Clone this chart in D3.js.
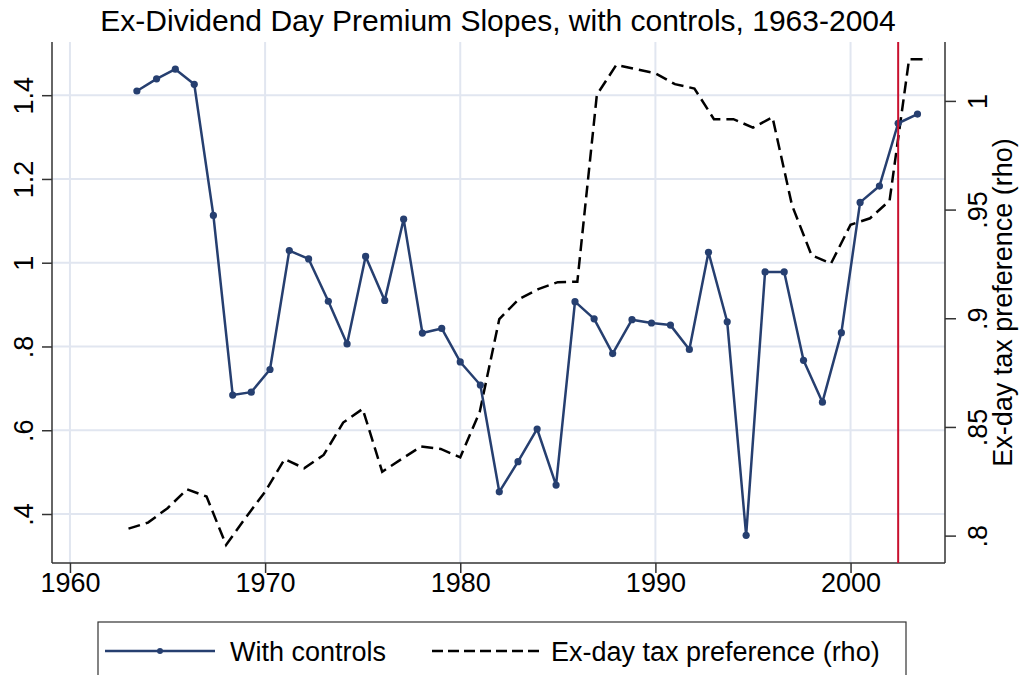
<!DOCTYPE html>
<html>
<head>
<meta charset="utf-8">
<script src="https://cdn.jsdelivr.net/npm/d3@7"></script>
<style>
  body { margin: 0; background: #fff; }
  svg { font-family: "Liberation Sans", Arial, sans-serif; }
</style>
</head>
<body>
<svg id="chart" width="1021" height="675"></svg>
<script>
// premium slope (with controls), left axis; x positions
var slopeX = [1963.43, 1964.44, 1965.40, 1966.37, 1967.35, 1968.34, 1969.29, 1970.25,
    1971.24, 1972.23, 1973.24, 1974.20, 1975.15, 1976.13, 1977.10, 1978.06, 1979.05,
    1980.00, 1981.03, 1982.00, 1982.96, 1983.94, 1984.91, 1985.88, 1986.86, 1987.81,
    1988.80, 1989.80, 1990.77, 1991.74, 1992.72, 1993.68, 1994.65, 1995.62, 1996.60,
    1997.59, 1998.56, 1999.53, 2000.49, 2001.48, 2002.44, 2003.43];
var slopeY = [1.410, 1.439, 1.462, 1.426, 1.113, 0.684, 0.691, 0.745,
    1.029, 1.009, 0.908, 0.806, 1.015, 0.910, 1.104, 0.832, 0.843,
    0.763, 0.708, 0.453, 0.525, 0.603, 0.469, 0.907, 0.866, 0.783,
    0.864, 0.856, 0.851, 0.793, 1.025, 0.859, 0.349, 0.978, 0.978,
    0.767, 0.667, 0.833, 1.144, 1.183, 1.333, 1.355];

// ex-day tax preference (rho), right axis
var rhoYears = d3.range(1963, 2005);
var rhoValues = [0.8032, 0.8060, 0.8126, 0.8213, 0.8180, 0.7957, 0.8082, 0.8202,
    0.8352, 0.8310, 0.8371, 0.8520, 0.8583, 0.8294, 0.8353, 0.8410, 0.8399,
    0.8360, 0.8570, 0.8996, 0.9088, 0.9134, 0.9166, 0.9168, 1.0028, 1.0166,
    1.0146, 1.0127, 1.0077, 1.0057, 0.9916, 0.9916, 0.9877, 0.9925, 0.9520,
    0.9290, 0.9252, 0.9430, 0.9460, 0.9541, 1.0192, 1.0192];

var markYear = 2002.44;

var xTicks = [1960, 1970, 1980, 1990, 2000];
var leftTicks = [0.4, 0.6, 0.8, 1, 1.2, 1.4];
var leftLabels = [".4", ".6", ".8", "1", "1.2", "1.4"];
var rightTicks = [0.8, 0.85, 0.9, 0.95, 1];
var rightLabels = [".8", ".85", ".9", ".95", "1"];

var titleText = "Ex-Dividend Day Premium Slopes, with controls, 1963-2004";
var rightTitle = "Ex-day tax preference (rho)";
var legendNames = ["With controls", "Ex-day tax preference (rho)"];

var blue = "#263f70", red = "#c8102e", grid = "#e1e6f0";

var svg = d3.select("#chart");
var pLeft = 52, pRight = 945, pTop = 42, pBottom = 563;

var x = d3.scaleLinear().domain([1959.08, 2004.84]).range([pLeft, pRight]);
var yL = d3.scaleLinear().domain([0.283, 1.527]).range([pBottom, pTop]);
var yR = d3.scaleLinear().domain([0.7874, 1.0271]).range([pBottom, pTop]);

// gridlines
svg.append("g").selectAll("line").data(xTicks).enter().append("line")
    .attr("x1", d => x(d)).attr("x2", d => x(d))
    .attr("y1", pTop).attr("y2", pBottom)
    .attr("stroke", grid).attr("stroke-width", 2);
svg.append("g").selectAll("line").data(leftTicks).enter().append("line")
    .attr("x1", pLeft).attr("x2", pRight)
    .attr("y1", d => yL(d)).attr("y2", d => yL(d))
    .attr("stroke", grid).attr("stroke-width", 2);

// axes
var xAxis = svg.append("g").attr("transform", "translate(0," + pBottom + ")")
    .call(d3.axisBottom(x).tickValues(xTicks).tickFormat(d3.format("d")).tickSize(10).tickSizeOuter(0));
xAxis.selectAll("text").attr("y", 29).attr("dy", 0).style("font-size", "27px");

var lAxis = svg.append("g").attr("transform", "translate(" + pLeft + ",0)")
    .call(d3.axisLeft(yL).tickValues(leftTicks).tickFormat((d, i) => leftLabels[i]).tickSize(10).tickSizeOuter(0));
lAxis.selectAll("text")
    .attr("x", 0).attr("dy", 0).attr("text-anchor", "middle")
    .attr("transform", "translate(-19,0) rotate(-90)")
    .style("font-size", "27px");

var rAxis = svg.append("g").attr("transform", "translate(" + pRight + ",0)")
    .call(d3.axisRight(yR).tickValues(rightTicks).tickFormat((d, i) => rightLabels[i]).tickSize(11).tickSizeOuter(0));
rAxis.selectAll("text")
    .attr("x", 0).attr("dy", 0).attr("text-anchor", "middle")
    .attr("transform", "translate(42,0) rotate(-90)")
    .style("font-size", "27px");

[xAxis, lAxis, rAxis].forEach(function(a) {
    a.select(".domain").attr("stroke", "#333").attr("stroke-width", 1.5);
    a.selectAll(".tick line").attr("stroke", "#333").attr("stroke-width", 1.5);
    a.selectAll("text").attr("fill", "#000").style("font-family", "Liberation Sans, Arial, sans-serif");
});
// extend axis lines to the full plot box
lAxis.select(".domain").attr("d", "M0," + pTop + "V" + pBottom);
rAxis.select(".domain").attr("d", "M0," + pTop + "V" + pBottom);
xAxis.select(".domain").attr("d", "M" + pLeft + ",0H" + pRight);

// right axis title
svg.append("text")
    .attr("transform", "translate(1012," + (pTop + pBottom) / 2 + ") rotate(-90)")
    .attr("text-anchor", "middle")
    .style("font-size", "27px")
    .text(rightTitle);

// title
svg.append("text")
    .attr("x", 498).attr("y", 31)
    .attr("text-anchor", "middle")
    .style("font-size", "30px")
    .text(titleText);

// rho dashed line
var rhoLine = d3.line().x((d, i) => x(rhoYears[i])).y(d => yR(d));
svg.append("path").datum(rhoValues)
    .attr("d", rhoLine)
    .attr("fill", "none").attr("stroke", "#000")
    .attr("stroke-width", 2.5).attr("stroke-dasharray", "12,6");

// slope line with markers
var slopeLine = d3.line().x((d, i) => x(slopeX[i])).y(d => yL(d));
svg.append("path").datum(slopeY)
    .attr("d", slopeLine)
    .attr("fill", "none").attr("stroke", blue)
    .attr("stroke-width", 2.5).attr("stroke-linejoin", "round");
svg.append("g").selectAll("circle").data(slopeY).enter().append("circle")
    .attr("cx", (d, i) => x(slopeX[i])).attr("cy", d => yL(d))
    .attr("r", 3.6).attr("fill", blue);

// vertical marker line
svg.append("line")
    .attr("x1", x(markYear)).attr("x2", x(markYear))
    .attr("y1", pTop).attr("y2", pBottom)
    .attr("stroke", red).attr("stroke-width", 2);

// legend
var lg = svg.append("g");
lg.append("rect").attr("x", 98).attr("y", 622).attr("width", 808).attr("height", 70)
    .attr("fill", "#fff").attr("stroke", "#333").attr("stroke-width", 1.2);
lg.append("line").attr("x1", 105).attr("x2", 215).attr("y1", 651).attr("y2", 651)
    .attr("stroke", blue).attr("stroke-width", 2.5);
lg.append("circle").attr("cx", 160).attr("cy", 651).attr("r", 3).attr("fill", blue);
lg.append("line").attr("x1", 432).attr("x2", 540).attr("y1", 651).attr("y2", 651)
    .attr("stroke", "#000").attr("stroke-width", 2.5).attr("stroke-dasharray", "11,5");
lg.selectAll("text").data(legendNames).enter().append("text")
    .attr("x", (d, i) => i === 0 ? 230 : 551).attr("y", 661)
    .style("font-size", "27px")
    .text(d => d);
</script>
</body>
</html>
